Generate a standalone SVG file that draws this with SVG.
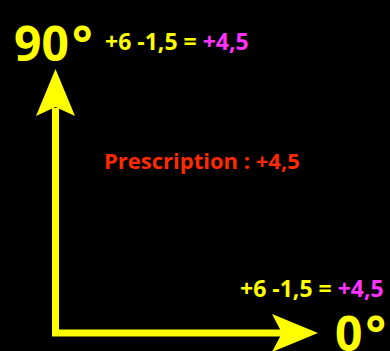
<svg xmlns="http://www.w3.org/2000/svg" width="390" height="351" viewBox="0 0 390 351">
<style>
text{font-family:"Open Sans","Noto Sans","Liberation Sans",sans-serif;font-weight:bold}
.y{fill:#ffff00}
.m{fill:#ff33ff}
.big{font-size:48px}
.eq{font-size:23px}
.axis{stroke:#ffff00;stroke-width:7;fill:none}
.head{fill:#ffff00}
</style>
<rect x="0" y="0" width="390" height="351" fill="#000000"/>
<g id="connectors">
<path class="axis" d="M55.5,108 V333 H284"/>
<path class="head" d="M55.5,69 L75,116 L55.5,107 L36,116 Z"/>
<path class="head" d="M318,333 L272,314 L282,333 L272,352 Z"/>
</g>
<g id="label-90">
<text class="y big" x="14" y="61">90<tspan dx="3">°</tspan></text>
</g>
<g id="formula-90">
<text class="eq" x="105" y="50"><tspan class="y">+6 -1,5 = </tspan><tspan class="m">+4,5</tspan></text>
</g>
<g id="prescription">
<text class="eq" x="104" y="169" font-size="22" fill="#ff2a00" style="font-size:22px">Prescription : +4,5</text>
</g>
<g id="formula-0">
<text class="eq" x="240" y="297"><tspan class="y">+6 -1,5 = </tspan><tspan class="m">+4,5</tspan></text>
</g>
<g id="label-0">
<text class="y big" x="335" y="351">0<tspan dx="3">°</tspan></text>
</g>
</svg>
